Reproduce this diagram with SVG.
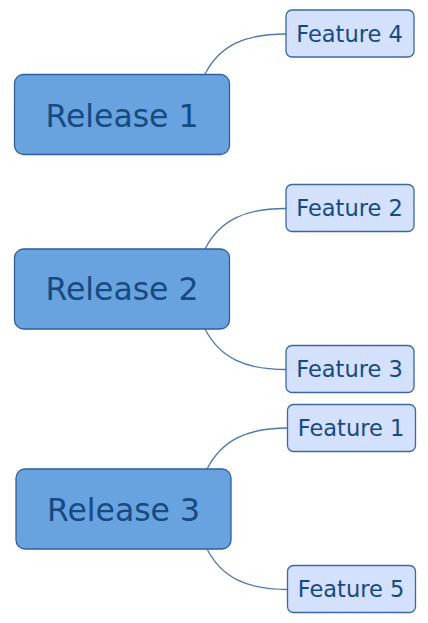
<svg xmlns="http://www.w3.org/2000/svg" width="428" height="623" viewBox="0 0 428 623">
<style>
.rel rect{fill:#68a3df;stroke:#2f5f98;stroke-width:1.3}
.feat rect{fill:#d4e1fc;stroke:#3a68a3;stroke-width:1.3}
text{font-family:"DejaVu Sans",Verdana,sans-serif;fill:#164a82;text-anchor:middle}
.rel text{font-size:31.5px}
.feat text{font-size:22.5px}
#connectors path{fill:none;stroke:#4a77aa;stroke-width:1.3}
</style>
<rect width="428" height="623" fill="#fff"/>
<g id="connectors">
<path d="M205,74 C220,45 245,34 286,34"/>
<path d="M205,249 C220,220 245,208.5 286,208.5"/>
<path d="M205,329 C220,358 245,369.5 286,369.5"/>
<path d="M207,469 C222,440 247,428 288,428"/>
<path d="M207,549 C222,578 247,589.5 288,589.5"/>
</g>
<g id="release1" class="rel"><rect x="14.5" y="74.5" width="215" height="80" rx="9"/><text x="122" y="127">Release 1</text></g>
<g id="release2" class="rel"><rect x="14.5" y="249" width="215" height="80" rx="9"/><text x="122" y="300">Release 2</text></g>
<g id="release3" class="rel"><rect x="16" y="469" width="215" height="80" rx="9"/><text x="123.5" y="521">Release 3</text></g>
<g id="feature4" class="feat"><rect x="286" y="10" width="128" height="47" rx="6"/><text x="349.5" y="42">Feature 4</text></g>
<g id="feature2" class="feat"><rect x="286" y="184.5" width="128" height="47" rx="6"/><text x="349.5" y="216">Feature 2</text></g>
<g id="feature3" class="feat"><rect x="286" y="345.5" width="128" height="47" rx="6"/><text x="349.5" y="377">Feature 3</text></g>
<g id="feature1" class="feat"><rect x="287.5" y="404.5" width="128" height="47" rx="6"/><text x="351" y="436">Feature 1</text></g>
<g id="feature5" class="feat"><rect x="287.5" y="565.5" width="128" height="47" rx="6"/><text x="351" y="597">Feature 5</text></g>
</svg>
